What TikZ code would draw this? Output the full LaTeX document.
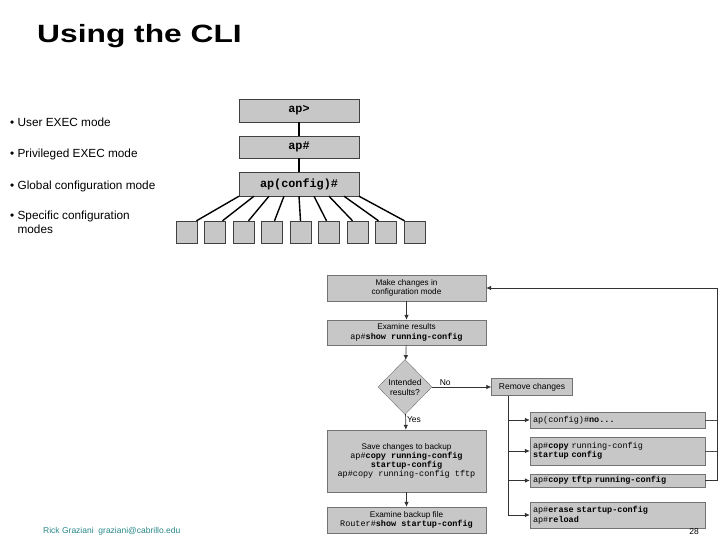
\documentclass[tikz,border=0pt]{standalone}
\usepackage{fontspec}
\setmainfont{Liberation Sans}
\setmonofont{Liberation Mono}
\usetikzlibrary{shapes.geometric,arrows.meta}
\definecolor{footteal}{RGB}{40,135,135}
\begin{document}
\begin{tikzpicture}[x=1pt,y=-1pt,
  mode/.style={draw=black!75, fill=black!22, minimum width=120pt, inner sep=0pt, font=\ttfamily\bfseries\fontsize{11.8}{13}\selectfont},
  sub/.style={draw=black!75, fill=black!22, minimum width=21pt, minimum height=22pt, inner sep=0pt},
  flow/.style={draw=black!55, fill=black!22, minimum width=159pt, inner sep=0pt, align=center, font=\fontsize{8.2}{9.2}\selectfont},
  cmd/.style={draw=black!55, fill=black!22, minimum width=175pt, inner sep=3pt, align=left, text width=169pt, font=\ttfamily\fontsize{8.5}{9.5}\selectfont},
  bullet/.style={anchor=west, inner sep=0pt, font=\fontsize{11.8}{13.5}\selectfont, align=left},
  arr/.style={-{Latex[length=5pt,width=4.5pt]}, draw=black!80, line width=0.7pt},
  thin/.style={draw=black!70, line width=0.7pt}
]
\useasboundingbox (0,0) rectangle (720,540);

% title and bullets
\node[anchor=base west, inner sep=0pt] (title) at (37,43) {\scalebox{1.27}[1]{\bfseries\fontsize{25}{30}\selectfont Using the CLI}};
\node[bullet] (b1) at (10,122) {\textbullet\ User EXEC mode};
\node[bullet] (b2) at (10,154) {\textbullet\ Privileged EXEC mode};
\node[bullet] (b3) at (10,186) {\textbullet\ Global configuration mode};
\node[bullet] (b4) at (10,222.5) {\textbullet\ Specific configuration\\\phantom{\textbullet\ }modes};

% mode hierarchy
\node[mode, minimum height=23pt] (user) at (299,110.5) {ap>};
\node[mode, minimum height=22pt] (priv) at (299,147) {ap\#};
\node[mode, minimum height=24pt] (glob) at (299,184) {ap(config)\#};
\draw[line width=1.4pt] (user) -- (priv);
\draw[line width=1.4pt] (priv) -- (glob);
\foreach \i in {1,...,9} {
  \node[sub] (sub\i) at ({300.5+(\i-5)*28.5},232) {};
  \draw[line width=1.4pt] ([xshift={(\i-5)*15pt}]glob.south) -- ([xshift={-(\i-5)*2.5pt}]sub\i.north);
}

% flow chart
\node[flow, minimum height=26pt] (make) at (406.5,288) {Make changes in\\configuration mode};
\node[flow, minimum height=25pt] (exam) at (406.5,332.5) {Examine results\\{\ttfamily\fontsize{8.5}{9.5}\selectfont ap\#\textbf{show running-config}}};
\node[diamond, draw=black!55, fill=black!22, minimum width=54pt, minimum height=55pt, inner sep=0pt, align=center, font=\fontsize{8.5}{10}\selectfont] (check) at (405,387) {Intended\\results?};
\node[flow, minimum height=62pt] (save) at (406.5,461) {Save changes to backup\\{\ttfamily\fontsize{8.5}{9.5}\selectfont ap\#\textbf{copy running-config}}\\{\ttfamily\fontsize{8.5}{9.5}\selectfont\bfseries startup-config}\\{\ttfamily\fontsize{8.5}{9.5}\selectfont ap\#copy running-config tftp}};
\node[flow, minimum height=26pt] (bkup) at (406.5,520) {Examine backup file\\{\ttfamily\fontsize{8.5}{9.5}\selectfont Router\#\textbf{show startup-config}}};
\node[draw=black!55, fill=black!22, minimum width=81pt, minimum height=17pt, inner sep=0pt, font=\fontsize{8.5}{10}\selectfont] (remove) at (532,387) {Remove changes};

\node[cmd, minimum height=16pt] (undo) at (617.5,420) {ap(config)\#\textbf{no...}};
\node[cmd, minimum height=28pt] (store) at (617.5,451) {ap\#\textbf{copy} running-config\\\textbf{startup config}};
\node[cmd, minimum height=13pt, inner sep=1pt] (fetch) at (617.5,480.5) {ap\#\textbf{copy tftp running-config}};
\node[cmd, minimum height=26pt] (wipe) at (617.5,515) {ap\#\textbf{erase startup-config}\\ap\#\textbf{reload}};

\draw[arr] (make) -- (exam);
\draw[arr] (exam) -- (check);
\draw[arr] (check) -- node[pos=0.35, right, inner sep=1pt, font=\fontsize{8.5}{9}\selectfont] {Yes} (save);
\draw[arr] (check.east) -- node[pos=0.22, above, inner sep=1pt, font=\fontsize{8.5}{9}\selectfont] {No} (remove.west);
\draw[arr] (save) -- (bkup);

\foreach \c in {undo,store,fetch,wipe}
  \draw[arr] ([xshift=-24pt]remove.south) |- (\c.west);

\coordinate (back) at (717,288);
\draw[arr] (fetch.east) -| (back) -- (make.east);
\draw[thin] (undo.east) -- (undo.east -| back);
\draw[thin] (store.east) -- (store.east -| back);

% footer
\node[anchor=west, inner sep=0pt, text=footteal, font=\fontsize{8.5}{10}\selectfont] (foot) at (43,531) {Rick Graziani\ \ graziani@cabrillo.edu};
\node[inner sep=0pt, font=\fontsize{8.5}{10}\selectfont] (page) at (694,532) {28};
\end{tikzpicture}
\end{document}
